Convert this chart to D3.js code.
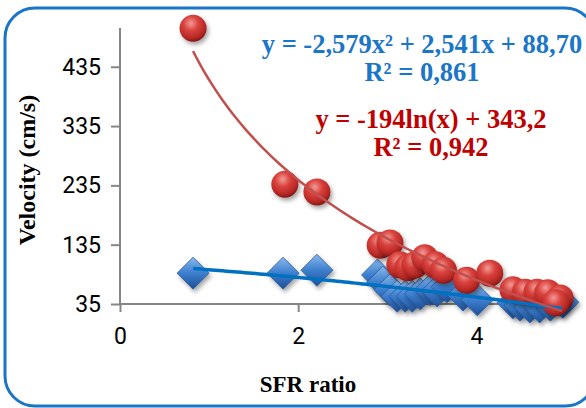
<!DOCTYPE html>
<meta charset="utf-8">
<script src="https://d3js.org/d3.v7.min.js"></script>
<style>
  body { margin: 0; background: #fff; }
</style>
<div id="my_dataviz"></div>

<script>
    // data
    const blueX = [0.82, 1.83, 2.21, 2.89, 2.95, 3.03, 3.11, 3.20, 3.28, 3.37, 3.48, 3.56, 3.67, 3.85, 4.01, 4.41, 4.49, 4.60, 4.71, 4.83, 4.97];
    const blueY = [87, 87, 92, 84, 72, 59, 48, 48, 48, 52, 59, 57, 64, 50, 42, 37, 33, 30, 30, 33, 38];
    const redX = [0.82, 1.85, 2.21, 2.92, 3.03, 3.14, 3.23, 3.31, 3.42, 3.54, 3.63, 3.89, 4.15, 4.41, 4.55, 4.68, 4.80, 4.94, 4.89];
    const redY = [500, 237, 224, 134, 138, 101, 96, 101, 113, 101, 92, 75, 87, 59, 55, 55, 54, 45, 37];
    const xTicks = [0, 2, 4];
    const yTicks = [35, 135, 235, 335, 435];
    const blueEq = ["y = -2,579x² + 2,541x + 88,70", "R² = 0,861"];
    const redEq = ["y = -194ln(x) + 343,2", "R² = 0,942"];

    const W = 586, H = 408;
    const svg = d3.select("#my_dataviz")
        .append("svg")
        .attr("width", W)
        .attr("height", H);

    const defs = svg.append("defs");
    const rg = defs.append("radialGradient").attr("id", "ball")
        .attr("cx", "42%").attr("cy", "32%").attr("r", "70%");
    rg.append("stop").attr("offset", "0%").attr("stop-color", "#f39a95");
    rg.append("stop").attr("offset", "40%").attr("stop-color", "#d9413c");
    rg.append("stop").attr("offset", "80%").attr("stop-color", "#b42724");
    rg.append("stop").attr("offset", "100%").attr("stop-color", "#7d1512");
    const lg = defs.append("linearGradient").attr("id", "gem")
        .attr("x1", "0").attr("y1", "0").attr("x2", "0").attr("y2", "1");
    lg.append("stop").attr("offset", "0%").attr("stop-color", "#8ab8ec");
    lg.append("stop").attr("offset", "50%").attr("stop-color", "#3d7fce");
    lg.append("stop").attr("offset", "100%").attr("stop-color", "#1d4f96");
    defs.append("filter").attr("id", "shadow")
        .attr("x", "-50%").attr("y", "-50%").attr("width", "200%").attr("height", "200%")
        .append("feDropShadow")
        .attr("dx", 2).attr("dy", 3).attr("stdDeviation", 2)
        .attr("flood-color", "#000").attr("flood-opacity", 0.35);

    // chart frame
    svg.append("rect")
        .attr("x", 5).attr("y", 8)
        .attr("width", 590).attr("height", 398)
        .attr("rx", 30)
        .attr("fill", "#fff")
        .attr("stroke", "#1a75c7")
        .attr("stroke-width", 3);

    // scales
    const x = d3.scaleLinear().domain([0, 5]).range([120, 565.5]);
    const y = d3.scaleLinear().domain([35, 500]).range([304, 28.2]);

    // axes
    const xAxis = svg.append("g")
        .attr("transform", "translate(0,304)")
        .call(d3.axisBottom(x).tickValues(xTicks).tickFormat(d3.format("d")).tickSize(8).tickPadding(16));
    const yAxis = svg.append("g")
        .attr("transform", "translate(120,0)")
        .call(d3.axisLeft(y).tickValues(yTicks).tickSize(9).tickPadding(10));
    [xAxis, yAxis].forEach(function(a) {
        a.selectAll("path, line").attr("stroke", "#868686").attr("stroke-width", 2);
        a.select(".domain").attr("d", null);
        a.selectAll("text")
            .attr("font-family", "Roboto, sans-serif")
            .attr("font-size", 23)
            .attr("fill", "#000");
    });
    xAxis.append("line").attr("x1", 120).attr("x2", 565.5)
        .attr("stroke", "#868686").attr("stroke-width", 2);
    yAxis.append("line").attr("y1", 28).attr("y2", 304)
        .attr("stroke", "#868686").attr("stroke-width", 2);

    // axis titles
    svg.append("text")
        .attr("transform", "translate(35,170) rotate(-90)")
        .attr("text-anchor", "middle")
        .attr("font-family", "'Liberation Serif', serif")
        .attr("font-weight", "bold")
        .attr("font-size", 24)
        .text("Velocity (cm/s)");
    svg.append("text")
        .attr("x", 308).attr("y", 392)
        .attr("text-anchor", "middle")
        .attr("font-family", "'Liberation Serif', serif")
        .attr("font-weight", "bold")
        .attr("font-size", 23)
        .text("SFR ratio");

    // points
    const blue = blueX.map((v, i) => [v, blueY[i]]);
    const red = redX.map((v, i) => [v, redY[i]]);

    svg.selectAll("path.gem")
        .data(blue)
        .join("path")
        .attr("class", "gem")
        .attr("d", "M0,-16L16,0L0,16L-16,0Z")
        .attr("transform", d => `translate(${x(d[0])},${y(d[1])})`)
        .attr("fill", "url(#gem)")
        .attr("stroke", "#2a5a9c")
        .attr("stroke-width", 0.8)
        .attr("filter", "url(#shadow)");

    svg.selectAll("circle.ball")
        .data(red)
        .join("circle")
        .attr("class", "ball")
        .attr("cx", d => x(d[0]))
        .attr("cy", d => y(d[1]))
        .attr("r", 13.5)
        .attr("fill", "url(#ball)")
        .attr("filter", "url(#shadow)");

    // trendlines (least squares on the points above)
    function solve3(A, b) {
        const M = A.map((r, i) => r.concat([b[i]]));
        for (let c = 0; c < 3; c++) {
            let p = c;
            for (let r = c + 1; r < 3; r++) if (Math.abs(M[r][c]) > Math.abs(M[p][c])) p = r;
            [M[c], M[p]] = [M[p], M[c]];
            for (let r = 0; r < 3; r++) {
                if (r === c) continue;
                const f = M[r][c] / M[c][c];
                for (let k = c; k < 4; k++) M[r][k] -= f * M[c][k];
            }
        }
        return [M[0][3] / M[0][0], M[1][3] / M[1][1], M[2][3] / M[2][2]];
    }
    const s = [0, 0, 0, 0, 0], t = [0, 0, 0];
    blue.forEach(function(d) {
        for (let k = 0; k < 5; k++) s[k] += Math.pow(d[0], k);
        for (let k = 0; k < 3; k++) t[k] += Math.pow(d[0], k) * d[1];
    });
    const q = solve3([[s[0], s[1], s[2]], [s[1], s[2], s[3]], [s[2], s[3], s[4]]], t);
    const quad = v => q[0] + q[1] * v + q[2] * v * v;

    const lm = d3.mean(red, d => Math.log(d[0])), ym = d3.mean(red, d => d[1]);
    const b1 = d3.sum(red, d => (Math.log(d[0]) - lm) * (d[1] - ym)) /
        d3.sum(red, d => (Math.log(d[0]) - lm) ** 2);
    const a1 = ym - b1 * lm;
    const logf = v => a1 + b1 * Math.log(v);

    const xs = d3.range(0, 101).map(i => 0.82 + i * (4.96 - 0.82) / 100);
    const line = d3.line().x(d => x(d[0])).y(d => y(d[1])).curve(d3.curveLinear);

    svg.append("path")
        .attr("d", line(xs.map(v => [v, quad(v)])))
        .attr("fill", "none")
        .attr("stroke", "#0070c0")
        .attr("stroke-width", 3.5);
    svg.append("path")
        .attr("d", line(xs.map(v => [v, logf(v)])))
        .attr("fill", "none")
        .attr("stroke", "#c0504d")
        .attr("stroke-width", 2.5);

    // equation labels
    const eq = svg.append("g")
        .attr("font-family", "'Liberation Serif', serif")
        .attr("font-weight", "bold")
        .attr("font-size", 26.5)
        .attr("text-anchor", "middle");
    eq.selectAll("text.b").data(blueEq).join("text")
        .attr("x", 422).attr("y", (d, i) => 53 + i * 28)
        .attr("fill", "#1a76c8")
        .text(d => d);
    eq.selectAll("text.r").data(redEq).join("text")
        .attr("x", 431).attr("y", (d, i) => 128 + i * 28)
        .attr("fill", "#c00000")
        .text(d => d);
</script>
